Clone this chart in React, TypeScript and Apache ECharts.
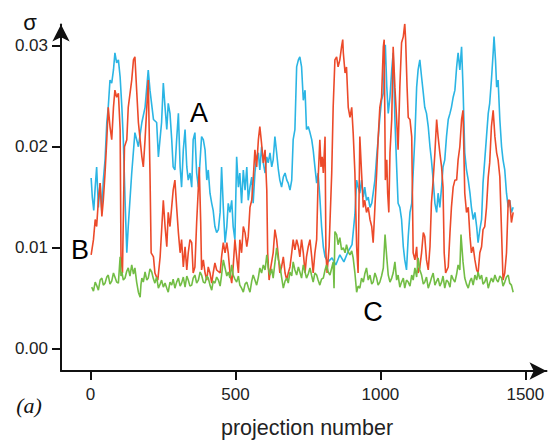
import React, { useEffect, useRef } from "react";
import * as echarts from "echarts";

// projection number, sigma
const seriesA: [number, number][] = [
  [2,0.0169],[6,0.0150],[11,0.0137],[16,0.0160],[21,0.0180],[27,0.0140],[33,0.0164],[39,0.0135],[44,0.0167],[50,0.0187],[56,0.0224],[61,0.0239],[67,0.0266],[73,0.0263],[79,0.0276],[84,0.0293],[90,0.0283],[96,0.0286],[102,0.0269],[108,0.0239],[113,0.0207],[119,0.0147],[125,0.0095],[130,0.0121],[142,0.0174],[153,0.0214],[165,0.0200],[177,0.0224],[188,0.0239],[199,0.0276],[205,0.0256],[217,0.0227],[228,0.0224],[234,0.0190],[245,0.0224],[251,0.0263],[257,0.0239],[263,0.0217],[268,0.0243],[274,0.0233],[280,0.0207],[285,0.0180],[291,0.0177],[297,0.0207],[303,0.0233],[309,0.0180],[314,0.0160],[320,0.0197],[326,0.0217],[332,0.0180],[337,0.0167],[343,0.0174],[349,0.0160],[354,0.0207],[360,0.0214],[366,0.0174],[372,0.0160],[378,0.0187],[383,0.0210],[389,0.0207],[395,0.0197],[401,0.0167],[406,0.0177],[412,0.0154],[418,0.0144],[423,0.0137],[429,0.0121],[435,0.0115],[441,0.0118],[447,0.0135],[452,0.0180],[458,0.0140],[464,0.0105],[470,0.0121],[475,0.0144],[481,0.0135],[487,0.0147],[492,0.0121],[498,0.0108],[504,0.0190],[510,0.0160],[515,0.0174],[521,0.0144],[527,0.0177],[533,0.0157],[539,0.0180],[544,0.0147],[550,0.0160],[556,0.0170],[561,0.0144],[567,0.0174],[573,0.0190],[579,0.0194],[584,0.0177],[590,0.0200],[596,0.0184],[602,0.0174],[608,0.0190],[613,0.0184],[619,0.0194],[625,0.0180],[630,0.0187],[636,0.0210],[642,0.0194],[648,0.0177],[653,0.0167],[659,0.0160],[665,0.0170],[671,0.0174],[677,0.0167],[682,0.0164],[688,0.0157],[694,0.0167],[699,0.0207],[705,0.0217],[711,0.0279],[717,0.0286],[722,0.0289],[728,0.0279],[734,0.0246],[740,0.0256],[745,0.0217],[751,0.0220],[757,0.0214],[763,0.0207],[768,0.0197],[774,0.0180],[780,0.0164],[785,0.0174],[791,0.0150],[797,0.0121],[803,0.0101],[809,0.0091],[815,0.0088],[819,0.0086],[833,0.0090],[846,0.0083],[860,0.0093],[874,0.0086],[888,0.0096],[902,0.0103],[912,0.0133],[918,0.0167],[923,0.0160],[929,0.0154],[935,0.0167],[941,0.0150],[946,0.0160],[952,0.0147],[958,0.0150],[964,0.0140],[970,0.0144],[975,0.0154],[981,0.0167],[987,0.0190],[992,0.0207],[998,0.0229],[1004,0.0246],[1010,0.0253],[1014,0.0286],[1017,0.0301],[1022,0.0259],[1027,0.0233],[1033,0.0249],[1039,0.0276],[1044,0.0293],[1050,0.0227],[1056,0.0180],[1061,0.0144],[1067,0.0140],[1073,0.0128],[1079,0.0101],[1084,0.0088],[1090,0.0078],[1096,0.0111],[1102,0.0135],[1108,0.0144],[1113,0.0174],[1119,0.0210],[1125,0.0259],[1130,0.0276],[1136,0.0286],[1142,0.0269],[1148,0.0253],[1153,0.0239],[1159,0.0233],[1165,0.0220],[1171,0.0200],[1176,0.0187],[1182,0.0167],[1188,0.0144],[1194,0.0135],[1199,0.0154],[1205,0.0140],[1211,0.0160],[1216,0.0180],[1222,0.0187],[1228,0.0210],[1234,0.0227],[1240,0.0233],[1245,0.0239],[1251,0.0249],[1257,0.0256],[1263,0.0279],[1268,0.0293],[1274,0.0276],[1280,0.0299],[1285,0.0259],[1291,0.0194],[1297,0.0177],[1303,0.0167],[1309,0.0154],[1314,0.0140],[1320,0.0128],[1326,0.0135],[1332,0.0121],[1337,0.0105],[1343,0.0118],[1349,0.0128],[1354,0.0164],[1360,0.0187],[1366,0.0210],[1372,0.0233],[1377,0.0243],[1383,0.0266],[1389,0.0293],[1392,0.0309],[1397,0.0286],[1401,0.0259],[1406,0.0266],[1412,0.0227],[1418,0.0200],[1423,0.0187],[1429,0.0177],[1435,0.0154],[1441,0.0140],[1446,0.0147],[1452,0.0135],[1458,0.0140]
];

const seriesB: [number, number][] = [
  [2,0.0093],[10,0.0108],[16,0.0128],[21,0.0121],[27,0.0147],[33,0.0164],[39,0.0131],[44,0.0147],[50,0.0174],[56,0.0207],[61,0.0239],[67,0.0220],[73,0.0207],[79,0.0239],[84,0.0256],[90,0.0249],[96,0.0253],[102,0.0217],[105,0.0091],[110,0.0075],[117,0.0200],[125,0.0207],[130,0.0239],[142,0.0266],[148,0.0286],[153,0.0289],[159,0.0256],[165,0.0224],[171,0.0207],[177,0.0190],[182,0.0180],[188,0.0207],[194,0.0239],[199,0.0266],[205,0.0174],[209,0.0095],[217,0.0091],[222,0.0075],[232,0.0068],[240,0.0091],[251,0.0147],[257,0.0121],[263,0.0101],[268,0.0135],[274,0.0121],[285,0.0157],[291,0.0167],[297,0.0140],[303,0.0115],[309,0.0095],[314,0.0108],[320,0.0081],[326,0.0101],[332,0.0078],[337,0.0095],[343,0.0108],[349,0.0105],[354,0.0075],[360,0.0081],[366,0.0125],[372,0.0160],[375,0.0180],[380,0.0125],[383,0.0078],[389,0.0088],[395,0.0075],[401,0.0068],[406,0.0081],[412,0.0075],[418,0.0065],[423,0.0075],[429,0.0085],[435,0.0078],[447,0.0075],[452,0.0091],[458,0.0105],[464,0.0095],[470,0.0105],[475,0.0095],[481,0.0075],[487,0.0065],[492,0.0081],[498,0.0108],[504,0.0091],[510,0.0075],[515,0.0108],[521,0.0095],[527,0.0121],[533,0.0115],[539,0.0101],[544,0.0111],[550,0.0140],[556,0.0147],[561,0.0167],[567,0.0197],[573,0.0180],[579,0.0207],[584,0.0220],[590,0.0203],[596,0.0184],[602,0.0197],[608,0.0157],[611,0.0095],[616,0.0068],[622,0.0081],[630,0.0095],[636,0.0118],[642,0.0108],[648,0.0091],[653,0.0075],[659,0.0081],[665,0.0091],[671,0.0075],[677,0.0068],[682,0.0075],[688,0.0081],[694,0.0095],[699,0.0108],[705,0.0098],[711,0.0108],[717,0.0101],[722,0.0091],[728,0.0108],[734,0.0095],[740,0.0075],[745,0.0091],[751,0.0101],[757,0.0108],[763,0.0091],[768,0.0075],[774,0.0095],[780,0.0108],[785,0.0167],[791,0.0207],[795,0.0180],[799,0.0190],[803,0.0174],[809,0.0210],[812,0.0095],[816,0.0075],[823,0.0101],[832,0.0174],[837,0.0239],[843,0.0286],[849,0.0289],[854,0.0279],[860,0.0286],[866,0.0299],[870,0.0306],[872,0.0293],[878,0.0273],[883,0.0279],[889,0.0239],[895,0.0229],[901,0.0239],[906,0.0214],[912,0.0174],[918,0.0101],[923,0.0075],[929,0.0210],[935,0.0174],[941,0.0140],[946,0.0147],[952,0.0135],[958,0.0140],[964,0.0128],[970,0.0121],[975,0.0105],[981,0.0140],[987,0.0174],[992,0.0207],[998,0.0239],[1004,0.0249],[1010,0.0299],[1013,0.0306],[1017,0.0167],[1022,0.0187],[1025,0.0154],[1029,0.0135],[1033,0.0194],[1039,0.0227],[1044,0.0299],[1050,0.0259],[1056,0.0227],[1061,0.0197],[1067,0.0259],[1073,0.0303],[1079,0.0309],[1084,0.0322],[1087,0.0306],[1092,0.0259],[1096,0.0229],[1102,0.0227],[1108,0.0210],[1113,0.0095],[1119,0.0088],[1125,0.0101],[1130,0.0075],[1136,0.0081],[1142,0.0095],[1148,0.0115],[1153,0.0111],[1159,0.0088],[1165,0.0078],[1171,0.0101],[1176,0.0144],[1182,0.0167],[1188,0.0194],[1194,0.0227],[1199,0.0210],[1205,0.0194],[1211,0.0180],[1216,0.0160],[1220,0.0095],[1225,0.0075],[1234,0.0081],[1240,0.0115],[1245,0.0140],[1251,0.0160],[1257,0.0167],[1263,0.0167],[1268,0.0187],[1274,0.0200],[1280,0.0227],[1285,0.0236],[1291,0.0154],[1297,0.0135],[1303,0.0140],[1309,0.0111],[1314,0.0095],[1320,0.0101],[1326,0.0088],[1332,0.0078],[1337,0.0075],[1343,0.0095],[1349,0.0101],[1354,0.0118],[1360,0.0121],[1366,0.0140],[1372,0.0170],[1377,0.0184],[1383,0.0220],[1389,0.0236],[1395,0.0210],[1401,0.0194],[1406,0.0187],[1412,0.0170],[1418,0.0115],[1423,0.0068],[1429,0.0075],[1435,0.0095],[1441,0.0147],[1446,0.0147],[1452,0.0125],[1458,0.0135]
];

const seriesC: [number, number][] = [
  [4,0.0061],[10,0.0057],[16,0.0066],[22,0.0062],[27,0.0058],[33,0.0068],[39,0.0070],[44,0.0063],[50,0.0065],[56,0.0071],[61,0.0073],[67,0.0064],[73,0.0067],[79,0.0075],[84,0.0071],[90,0.0066],[96,0.0065],[102,0.0091],[105,0.0072],[108,0.0076],[113,0.0068],[119,0.0070],[125,0.0077],[130,0.0080],[136,0.0072],[142,0.0083],[148,0.0074],[153,0.0080],[159,0.0066],[165,0.0056],[171,0.0051],[174,0.0064],[177,0.0070],[182,0.0066],[188,0.0076],[194,0.0068],[199,0.0070],[205,0.0079],[211,0.0076],[217,0.0069],[222,0.0065],[228,0.0071],[234,0.0060],[240,0.0064],[245,0.0068],[251,0.0061],[257,0.0065],[263,0.0060],[268,0.0056],[274,0.0066],[280,0.0063],[285,0.0069],[291,0.0060],[297,0.0066],[303,0.0070],[309,0.0062],[314,0.0065],[320,0.0071],[326,0.0061],[332,0.0072],[337,0.0068],[343,0.0062],[349,0.0063],[354,0.0070],[360,0.0073],[366,0.0065],[372,0.0068],[378,0.0076],[383,0.0073],[389,0.0066],[395,0.0065],[401,0.0072],[406,0.0070],[412,0.0063],[418,0.0058],[423,0.0067],[429,0.0065],[435,0.0071],[441,0.0068],[447,0.0062],[452,0.0073],[458,0.0088],[464,0.0080],[470,0.0072],[475,0.0076],[481,0.0070],[487,0.0083],[492,0.0073],[498,0.0069],[504,0.0066],[510,0.0072],[515,0.0063],[521,0.0060],[527,0.0056],[533,0.0064],[539,0.0066],[544,0.0061],[550,0.0056],[556,0.0067],[561,0.0073],[567,0.0068],[573,0.0063],[579,0.0071],[584,0.0080],[590,0.0075],[596,0.0083],[602,0.0078],[608,0.0093],[613,0.0080],[619,0.0073],[625,0.0079],[630,0.0070],[636,0.0085],[642,0.0100],[648,0.0088],[653,0.0083],[659,0.0071],[665,0.0060],[671,0.0067],[677,0.0070],[682,0.0065],[688,0.0076],[694,0.0072],[699,0.0086],[705,0.0078],[711,0.0073],[717,0.0081],[722,0.0076],[728,0.0070],[734,0.0083],[740,0.0076],[745,0.0070],[751,0.0074],[757,0.0080],[763,0.0072],[768,0.0066],[774,0.0075],[780,0.0073],[785,0.0068],[791,0.0063],[797,0.0069],[803,0.0070],[809,0.0078],[814,0.0083],[820,0.0076],[826,0.0073],[832,0.0080],[837,0.0086],[840,0.0060],[843,0.0116],[849,0.0113],[854,0.0103],[860,0.0110],[866,0.0098],[872,0.0100],[878,0.0095],[883,0.0103],[889,0.0096],[895,0.0093],[901,0.0097],[906,0.0090],[912,0.0075],[918,0.0056],[923,0.0062],[929,0.0060],[935,0.0070],[941,0.0066],[946,0.0074],[952,0.0080],[958,0.0068],[964,0.0073],[970,0.0064],[975,0.0066],[981,0.0075],[987,0.0070],[992,0.0063],[998,0.0066],[1004,0.0072],[1010,0.0080],[1016,0.0113],[1022,0.0090],[1027,0.0073],[1033,0.0066],[1039,0.0070],[1044,0.0075],[1050,0.0086],[1056,0.0068],[1061,0.0073],[1067,0.0061],[1073,0.0066],[1079,0.0070],[1084,0.0060],[1090,0.0068],[1096,0.0066],[1102,0.0062],[1108,0.0073],[1113,0.0068],[1119,0.0080],[1125,0.0071],[1130,0.0090],[1136,0.0078],[1142,0.0073],[1148,0.0064],[1153,0.0066],[1159,0.0071],[1165,0.0060],[1171,0.0065],[1176,0.0070],[1182,0.0075],[1188,0.0063],[1194,0.0067],[1199,0.0070],[1205,0.0062],[1211,0.0066],[1216,0.0072],[1222,0.0060],[1228,0.0068],[1234,0.0066],[1240,0.0061],[1245,0.0073],[1251,0.0069],[1257,0.0066],[1263,0.0074],[1268,0.0083],[1274,0.0078],[1278,0.0113],[1285,0.0086],[1291,0.0070],[1297,0.0064],[1303,0.0060],[1309,0.0067],[1314,0.0070],[1320,0.0063],[1326,0.0073],[1332,0.0068],[1337,0.0076],[1343,0.0069],[1349,0.0073],[1354,0.0064],[1360,0.0066],[1366,0.0071],[1372,0.0060],[1377,0.0065],[1383,0.0070],[1389,0.0066],[1395,0.0073],[1401,0.0068],[1406,0.0066],[1412,0.0072],[1418,0.0070],[1423,0.0062],[1429,0.0066],[1435,0.0071],[1441,0.0073],[1446,0.0065],[1452,0.0063],[1458,0.0056]
];

const xTicks = [0, 500, 1000, 1500];
const yTicks = [0, 0.01, 0.02, 0.03];

const FONT = "'Liberation Sans', Arial, Helvetica, sans-serif";

export default function App() {
  const ref = useRef<HTMLDivElement>(null);
  useEffect(() => {
    document.body.style.margin = "0";
    const chart = echarts.init(ref.current!, null, { renderer: "svg" });
    const axisLineStyle = { color: "#111", width: 2 };
    chart.setOption({
      animation: false,
      backgroundColor: "#fff",
      grid: { left: 61, right: 8.5, top: 24.5, bottom: 70, containLabel: false },
      xAxis: {
        type: "value",
        min: -102,
        max: 1573,
        axisLine: { show: true, onZero: false, lineStyle: axisLineStyle, symbol: ["none", "arrow"], symbolSize: [13, 17] },
        axisTick: { show: true, length: 9, lineStyle: axisLineStyle, customValues: xTicks },
        axisLabel: {
          show: true,
          customValues: xTicks,
          margin: 15,
          fontSize: 17,
          color: "#222",
          fontFamily: FONT,
          formatter: (v: number) => String(v),
        },
        splitLine: { show: false },
      },
      yAxis: {
        type: "value",
        min: -0.0022,
        max: 0.0321,
        axisLine: { show: true, onZero: false, lineStyle: axisLineStyle, symbol: ["none", "arrow"], symbolSize: [13, 17] },
        axisTick: { show: true, length: 9, lineStyle: axisLineStyle, customValues: yTicks },
        axisLabel: {
          show: true,
          customValues: yTicks,
          margin: 13,
          fontSize: 17,
          color: "#222",
          fontFamily: FONT,
          formatter: (v: number) => v.toFixed(2),
        },
        splitLine: { show: false },
      },
      series: [
        { type: "line", data: seriesA, symbol: "none", lineStyle: { color: "#2bb5e4", width: 1.6 }, z: 2 },
        { type: "line", data: seriesB, symbol: "none", lineStyle: { color: "#ec4a2a", width: 1.6 }, z: 3 },
        { type: "line", data: seriesC, symbol: "none", lineStyle: { color: "#72bd45", width: 1.6 }, z: 4 },
      ],
      graphic: [
        { type: "text", x: 30, y: 22, style: { text: "σ", fontSize: 22, fontFamily: FONT, fill: "#111", align: "center", verticalAlign: "middle" } },
        { type: "text", x: 29, y: 405, style: { text: "(a)", fontSize: 22, fontStyle: "italic", fontFamily: "'Liberation Serif', 'Times New Roman', serif", fill: "#111", align: "center", verticalAlign: "middle" } },
        { type: "text", x: 307, y: 428, style: { text: "projection number", fontSize: 21.5, fontFamily: FONT, fill: "#222", align: "center", verticalAlign: "middle" } },
        { type: "text", x: 199, y: 113, style: { text: "A", fontSize: 27, fontFamily: FONT, fill: "#000", align: "center", verticalAlign: "middle" } },
        { type: "text", x: 80, y: 250, style: { text: "B", fontSize: 27, fontFamily: FONT, fill: "#000", align: "center", verticalAlign: "middle" } },
        { type: "text", x: 373, y: 312, style: { text: "C", fontSize: 27, fontFamily: FONT, fill: "#000", align: "center", verticalAlign: "middle" } },
      ],
    });
    return () => chart.dispose();
  }, []);
  return <div ref={ref} style={{ position: "fixed", left: 0, top: 0, width: 555, height: 441 }} />;
}
